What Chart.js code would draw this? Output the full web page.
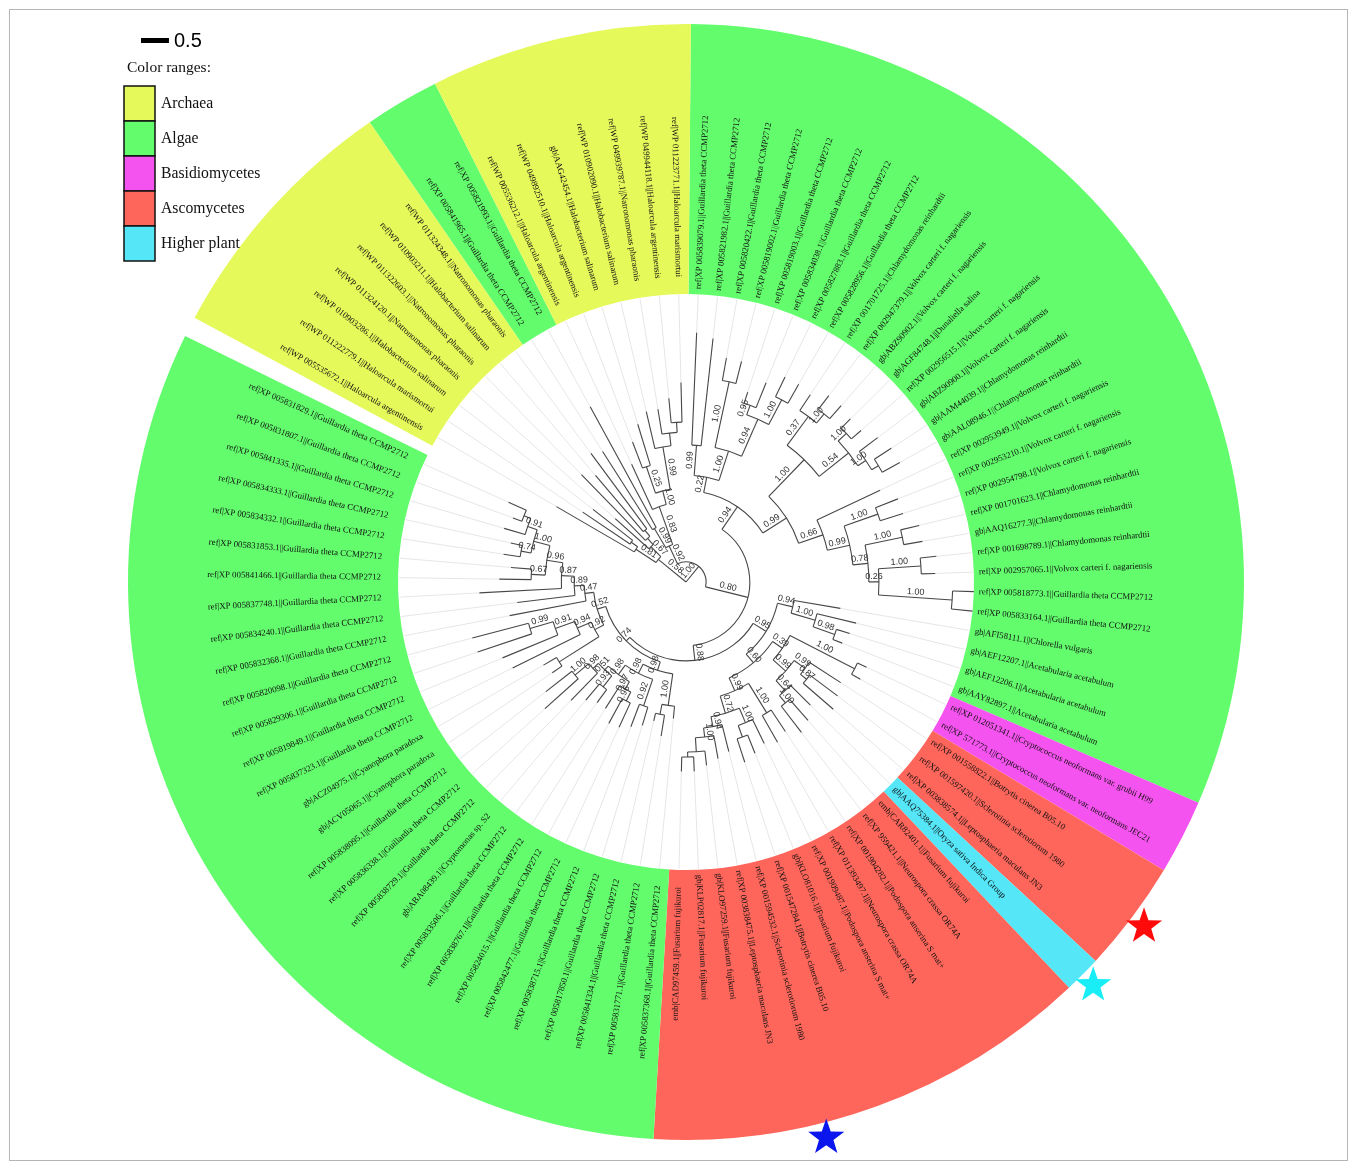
<!DOCTYPE html>
<html>
<head>
<meta charset="utf-8">
<title>Phylogenetic tree</title>
<script src="https://cdn.jsdelivr.net/npm/chart.js@4.4.1/dist/chart.umd.min.js"></script>
<style>
  html, body { margin: 0; padding: 0; background: #fff; overflow: hidden; }
  #wrap { position: relative; width: 1363px; height: 1166px; }
  #frame { position: absolute; left: 9px; top: 9px; width: 1337px; height: 1150px; border: 1px solid #b5b5b5; pointer-events: none; }
</style>
</head>
<body>
<div id="wrap"><canvas id="c"></canvas><div id="frame"></div></div>
<script>
// ---- colour ranges, clockwise from 12 o'clock (null = empty wedge) ----
const rangeGroup     = ['Algae', 'Basidiomycetes', 'Ascomycetes', 'Higher plant', 'Ascomycetes', 'Algae', null, 'Archaea', 'Algae', 'Archaea'];
const rangeLeafCount = [29, 2, 3, 1, 12, 29, 0, 7, 2, 7];
const gapSlots = 0.54;

const legendNames  = ['Archaea', 'Algae', 'Basidiomycetes', 'Ascomycetes', 'Higher plant'];
const legendColors = ['#e5f95b', '#62fc6c', '#f553ef', '#fe665b', '#55e6f8'];

// ---- leaf labels, clockwise from 12 o'clock ----
const leafNames = [
  'ref|XP 005839079.1||Guillardia theta CCMP2712',
  'ref|XP 005821982.1||Guillardia theta CCMP2712',
  'ref|XP 005820422.1||Guillardia theta CCMP2712',
  'ref|XP 005819002.1||Guillardia theta CCMP2712',
  'ref|XP 005819003.1||Guillardia theta CCMP2712',
  'ref|XP 005834038.1||Guillardia theta CCMP2712',
  'ref|XP 005827883.1||Guillardia theta CCMP2712',
  'ref|XP 005828956.1||Guillardia theta CCMP2712',
  'ref|XP 001701725.1||Chlamydomonas reinhardtii',
  'ref|XP 002947379.1||Volvox carteri f. nagariensis',
  'gb|ABZ90902.1||Volvox carteri f. nagariensis',
  'gb|AGF84748.1||Dunaliella salina',
  'ref|XP 002956515.1||Volvox carteri f. nagariensis',
  'gb|ABZ90900.1||Volvox carteri f. nagariensis',
  'gb|AAM44039.1||Chlamydomonas reinhardtii',
  'gb|AAL08946.1||Chlamydomonas reinhardtii',
  'ref|XP 002953949.1||Volvox carteri f. nagariensis',
  'ref|XP 002953210.1||Volvox carteri f. nagariensis',
  'ref|XP 002954798.1||Volvox carteri f. nagariensis',
  'ref|XP 001701623.1||Chlamydomonas reinhardtii',
  'gb|AAQ16277.3||Chlamydomonas reinhardtii',
  'ref|XP 001698789.1||Chlamydomonas reinhardtii',
  'ref|XP 002957065.1||Volvox carteri f. nagariensis',
  'ref|XP 005818773.1||Guillardia theta CCMP2712',
  'ref|XP 005833164.1||Guillardia theta CCMP2712',
  'gb|AFI58111.1||Chlorella vulgaris',
  'gb|AEF12207.1||Acetabularia acetabulum',
  'gb|AEF12206.1||Acetabularia acetabulum',
  'gb|AAY82897.1||Acetabularia acetabulum',
  'ref|XP 012051341.1||Cryptococcus neoformans var. grubii H99',
  'ref|XP 571773.1||Cryptococcus neoformans var. neoformans JEC21',
  'ref|XP 001558822.1||Botrytis cinerea B05.10',
  'ref|XP 001597420.1||Sclerotinia sclerotiorum 1980',
  'ref|XP 003838574.1||Leptosphaeria maculans JN3',
  'gb|AAQ75384.1||Oryza sativa Indica Group',
  'emb|CAR82401.1||Fusarium fujikuroi',
  'ref|XP 959421.1||Neurospora crassa OR74A',
  'ref|XP 001904282.1||Podospora anserina S mat+',
  'ref|XP 011393497.1||Neurospora crassa OR74A',
  'ref|XP 001909487.1||Podospora anserina S mat+',
  'gb|KLO81016.1||Fusarium fujikuroi',
  'ref|XP 001547284.1||Botrytis cinerea B05.10',
  'ref|XP 001594532.1||Sclerotinia sclerotiorum 1980',
  'ref|XP 003838475.1||Leptosphaeria maculans JN3',
  'gb|KLO97259.1||Fusarium fujikuroi',
  'gb|KLP02817.1||Fusarium fujikuroi',
  'emb|CAD97459.1||Fusarium fujikuroi',
  'ref|XP 005837368.1||Guillardia theta CCMP2712',
  'ref|XP 005831771.1||Guillardia theta CCMP2712',
  'ref|XP 005841334.1||Guillardia theta CCMP2712',
  'ref|XP 005817850.1||Guillardia theta CCMP2712',
  'ref|XP 005838715.1||Guillardia theta CCMP2712',
  'ref|XP 005842477.1||Guillardia theta CCMP2712',
  'ref|XP 005824015.1||Guillardia theta CCMP2712',
  'ref|XP 005838767.1||Guillardia theta CCMP2712',
  'ref|XP 005833506.1||Guillardia theta CCMP2712',
  'gb|ABA08439.1||Cryptomonas sp. S2',
  'ref|XP 005838729.1||Guillardia theta CCMP2712',
  'ref|XP 005836338.1||Guillardia theta CCMP2712',
  'ref|XP 005838095.1||Guillardia theta CCMP2712',
  'gb|ACV05065.1||Cyanophora paradoxa',
  'gb|ACZ04975.1||Cyanophora paradoxa',
  'ref|XP 005837323.1||Guillardia theta CCMP2712',
  'ref|XP 005819849.1||Guillardia theta CCMP2712',
  'ref|XP 005829306.1||Guillardia theta CCMP2712',
  'ref|XP 005820098.1||Guillardia theta CCMP2712',
  'ref|XP 005832368.1||Guillardia theta CCMP2712',
  'ref|XP 005834240.1||Guillardia theta CCMP2712',
  'ref|XP 005837748.1||Guillardia theta CCMP2712',
  'ref|XP 005841466.1||Guillardia theta CCMP2712',
  'ref|XP 005831853.1||Guillardia theta CCMP2712',
  'ref|XP 005834332.1||Guillardia theta CCMP2712',
  'ref|XP 005834333.1||Guillardia theta CCMP2712',
  'ref|XP 005841335.1||Guillardia theta CCMP2712',
  'ref|XP 005831807.1||Guillardia theta CCMP2712',
  'ref|XP 005831829.1||Guillardia theta CCMP2712',
  'ref|WP 005535672.1||Haloarcula argentinensis',
  'ref|WP 011222779.1||Haloarcula marismortui',
  'ref|WP 010903286.1||Halobacterium salinarum',
  'ref|WP 011324120.1||Natronomonas pharaonis',
  'ref|WP 011322603.1||Natronomonas pharaonis',
  'ref|WP 010903211.1||Halobacterium salinarum',
  'ref|WP 011324348.1||Natronomonas pharaonis',
  'ref|XP 005841965.1||Guillardia theta CCMP2712',
  'ref|XP 005821993.1||Guillardia theta CCMP2712',
  'ref|WP 005536212.1||Haloarcula argentinensis',
  'ref|WP 049892510.1||Haloarcula argentinensis',
  'gb|AAG42454.1||Halobacterium salinarum',
  'ref|WP 010902090.1||Halobacterium salinarum',
  'ref|WP 049939787.1||Natronomonas pharaonis',
  'ref|WP 049944118.1||Haloarcula argentinensis',
  'ref|WP 011223771.1||Haloarcula marismortui'
];

// ---- tree: leaves are numbered as in leafNames (1-based); "support:height",
//      heights are distances from the root in substitutions/site ----
const cladeArchaea = '((77:2.68,(78:2.23,79:2.11):1.21)0.81:1.07,(80:1.70,(81:2.68,(82:2.50,83:2.86):1.18):1.04)0.67:0.89)0.58:0.64';
const cladeHalo = '((84:2.77,85:3.57)0.99:1.11,(86:2.32,((87:2.68,88:2.95)0.25:2.18,(89:3.13,(90:3.13,(91:3.30,92:3.57):2.86):2.68)0.99:2.45)1.00:1.68)0.83:1.43)0.92:0.71';
const cladeTopGuillardia = '((1:4.46,2:4.38)0.99:2.45,((3:4.07,4:4.07)1.00:3.66,((5:3.57,6:3.84)0.95:3.36,(7:4.07,8:4.07)1.00:3.68)0.94:3.18)1.00:2.46)0.22:1.91';
const cladeChlorophyta = '(((9:4.02,(10:4.20,11:4.20)1.00:3.89)0.37:3.68,((12:4.14,13:4.14)1.00:3.91,(14:4.29,(15:4.38,16:4.38):4.02)1.00:3.88)0.54:3.71)1.00:3.04,(17:3.84,((18:4.07,19:4.07)1.00:3.64,((20:4.29,21:4.29)1.00:3.95,((22:4.50,23:4.46)1.00:4.21,(24:5.15,25:5.15)1.00:4.77)0.26:3.45)0.78:3.27)0.99:3.00)0.66:2.59)0.99:2.13';
const cladeFungiPlant = '((26:2.80,(27:3.13,(28:3.07,29:3.00)0.98:2.82)1.00:2.41)0.94:1.96,(((30:3.57,31:3.57)1.00:3.39,((32:3.30,(33:3.39,34:3.48)0.87:2.77)0.99:2.63,(35:3.13,(36:3.30,37:3.39)1.00:2.80)0.64:2.63)0.99:2.39)0.39:2.09,((38:3.21,39:3.30)1.00:2.75,((40:3.21,(41:3.30,42:3.39):2.95)1.00:2.73,(43:3.13,(44:3.21,(45:3.30,(46:3.39,47:3.39):3.13):3.04)1.00:2.79)0.94:2.63)0.72:2.45)0.99:2.13)0.60:1.88)0.95:1.68';
const cladeCryptophyta = '(((48:2.45,(49:2.79,50:2.55):2.41)1.00:2.23,((51:2.68,52:2.77)0.92:2.34,(((53:2.86,54:2.88)0.96:2.38,55:2.68)0.97:2.20,((56:2.68,57:2.77)0.93:2.39,(58:2.95,(59:3.39,60:3.18)1.00:2.59)0.98:2.27)0.51:2.14)0.98:2.05)0.98:1.84)0.98:1.66,(((61:2.89,62:2.95):2.68,(63:3.46,(64:3.55,(65:3.93,66:3.95)0.99:2.91)0.91:2.48)0.94:2.11)0.92:1.84,(67:3.21,(68:3.04,(69:3.70,((70:3.34,71:3.14)0.67:2.77,((72:3.30,73:3.21)0.74:3.00,(74:3.39,(75:3.30,76:3.48):3.13)0.91:3.00)1.00:2.82)0.96:2.52)0.87:2.23)0.89:2.00)0.47:1.82)0.52:1.66)0.74:1.50';
const treeNewick = '(' + cladeArchaea + ',(' + cladeHalo + ',((' + cladeTopGuillardia + ',' + cladeChlorophyta +
  ')0.94:1.63,(' + cladeFungiPlant + ',' + cladeCryptophyta + ')0.88:1.41)0.80:1.14)1.00:0.36):0;';

const starLeaves = [33, 35, 43];
const starColors = ['#ff0a0a', '#19eef6', '#0b16ee'];
const scaleBarValue = 0.5;

// ---- layout constants ----
const W = 1363, H = 1166;
const CX = 686, CY = 582, R_OUT = 558, R_IN = 288;
const TREE_SPAN = 5.15;          // tree height that reaches the inner ring
const LEAF_FONT = '8.8px "Liberation Serif"';
const SUPPORT_FONT = '9px "Liberation Sans"';
const LABEL_PAD = 5, LABEL_PAD_FLIPPED = 17;

function parseTree(src) {
  const s = src.replace(/\s+/g, '');
  let i = 0;
  function node() {
    const n = { children: [], support: '', height: 0, leaf: null };
    if (s[i] === '(') {
      i++;
      n.children.push(node());
      while (s[i] === ',') { i++; n.children.push(node()); }
      i++;
      let lab = '';
      while (i < s.length && /[0-9.]/.test(s[i])) lab += s[i++];
      n.support = lab;
    } else {
      let lab = '';
      while (i < s.length && /[0-9]/.test(s[i])) lab += s[i++];
      n.leaf = parseInt(lab, 10);
    }
    if (s[i] === ':') {
      i++;
      let d = '';
      while (i < s.length && /[0-9.]/.test(s[i])) d += s[i++];
      n.height = parseFloat(d);
    }
    return n;
  }
  return node();
}
const treeRoot = parseTree(treeNewick);

function leafAnglesFrom(chart) {
  const arcs = chart.getDatasetMeta(0).data;
  const angles = [];
  let gapEnd = null;
  rangeLeafCount.forEach((n, j) => {
    const a = arcs[j];
    if (rangeGroup[j] === null) { gapEnd = a.endAngle; return; }
    const step = (a.endAngle - a.startAngle) / n;
    for (let k = 0; k < n; k++) angles.push(a.startAngle + step * (k + 0.5));
  });
  return { angles, gapEnd };
}

function layoutTree(n, unwrapped) {
  if (n.leaf !== null) { n.angle = unwrapped[n.leaf - 1]; return; }
  n.children.forEach(c => layoutTree(c, unwrapped));
  n.a0 = n.children[0].angle;
  n.a1 = n.children[n.children.length - 1].angle;
  n.angle = (n.a0 + n.a1) / 2;
}

function drawStar(ctx, x, y, ro, ri, color) {
  ctx.beginPath();
  for (let i = 0; i < 10; i++) {
    const r = i % 2 ? ri : ro;
    const a = -Math.PI / 2 + i * Math.PI / 5;
    const px = x + r * Math.cos(a), py = y + r * Math.sin(a);
    if (i) ctx.lineTo(px, py); else ctx.moveTo(px, py);
  }
  ctx.closePath();
  ctx.fillStyle = color;
  ctx.fill();
}

const treePlugin = {
  id: 'treePlugin',
  afterDatasetsDraw(chart) {
    const ctx = chart.ctx;
    const arc0 = chart.getDatasetMeta(0).data[0];
    const cx = arc0.x, cy = arc0.y, rIn = arc0.innerRadius, rOut = arc0.outerRadius;
    const k = rIn / TREE_SPAN;
    const { angles, gapEnd } = leafAnglesFrom(chart);
    const unwrapped = angles.map(a => (a < gapEnd ? a + 2 * Math.PI : a));
    layoutTree(treeRoot, unwrapped);

    ctx.save();
    // leaf guide lines
    ctx.strokeStyle = '#e6e6e6';
    ctx.lineWidth = 1;
    const leaves = [];
    (function collect(n) { if (n.leaf !== null) leaves.push(n); else n.children.forEach(collect); })(treeRoot);
    leaves.forEach(l => {
      const r0 = l.height * k;
      ctx.beginPath();
      ctx.moveTo(cx + r0 * Math.cos(l.angle), cy + r0 * Math.sin(l.angle));
      ctx.lineTo(cx + (rIn - 1) * Math.cos(l.angle), cy + (rIn - 1) * Math.sin(l.angle));
      ctx.stroke();
    });

    // branches
    ctx.strokeStyle = '#474747';
    ctx.lineWidth = 1.1;
    const supports = [];
    (function draw(n) {
      if (!n.children.length) return;
      const r = n.height * k;
      if (r > 0) {
        ctx.beginPath();
        ctx.arc(cx, cy, r, n.a0, n.a1);
        ctx.stroke();
      }
      n.children.forEach(c => {
        const rc = c.height * k;
        ctx.beginPath();
        ctx.moveTo(cx + r * Math.cos(c.angle), cy + r * Math.sin(c.angle));
        ctx.lineTo(cx + rc * Math.cos(c.angle), cy + rc * Math.sin(c.angle));
        ctx.stroke();
        if (c.support) supports.push({ text: c.support, r: (r + rc) / 2, a: c.angle });
        draw(c);
      });
    })(treeRoot);

    // support values along the branch leading to each node
    ctx.fillStyle = '#333';
    ctx.font = SUPPORT_FONT;
    ctx.textAlign = 'center';
    ctx.textBaseline = 'bottom';
    supports.forEach(s => {
      ctx.save();
      ctx.translate(cx, cy);
      if (Math.cos(s.a) >= 0) { ctx.rotate(s.a); ctx.fillText(s.text, s.r, -1); }
      else { ctx.rotate(s.a + Math.PI); ctx.fillText(s.text, -s.r, -1); }
      ctx.restore();
    });

    // leaf labels
    ctx.fillStyle = '#111';
    ctx.font = LEAF_FONT;
    ctx.textBaseline = 'middle';
    angles.forEach((a, i) => {
      ctx.save();
      ctx.translate(cx, cy);
      if (Math.cos(a) >= 0) { ctx.rotate(a); ctx.textAlign = 'left'; ctx.fillText(leafNames[i], rIn + LABEL_PAD, 0); }
      else { ctx.rotate(a + Math.PI); ctx.textAlign = 'right'; ctx.fillText(leafNames[i], -(rIn + LABEL_PAD_FLIPPED), 0); }
      ctx.restore();
    });

    // highlighted leaves
    starLeaves.forEach((leaf, i) => {
      const a = angles[leaf - 1];
      const rs = rOut + 15;
      drawStar(ctx, cx + rs * Math.cos(a), cy + rs * Math.sin(a), 19, 7.6, starColors[i]);
    });
    ctx.restore();
  },
  afterDraw(chart) {
    const ctx = chart.ctx;
    const arc0 = chart.getDatasetMeta(0).data[0];
    const k = arc0.innerRadius / TREE_SPAN;
    ctx.save();
    // scale bar
    ctx.fillStyle = '#000';
    ctx.fillRect(141, 38, scaleBarValue * k, 5);
    ctx.font = '20px "Liberation Sans"';
    ctx.textBaseline = 'middle';
    ctx.textAlign = 'left';
    ctx.fillText(String(scaleBarValue), 174, 41);
    // colour legend
    ctx.font = '15.5px "Liberation Serif"';
    ctx.fillStyle = '#111';
    ctx.fillText('Color ranges:', 127, 68);
    const bx = 124, by = 86, bw = 31, bh = 35;
    legendNames.forEach((name, i) => {
      ctx.fillStyle = legendColors[i];
      ctx.fillRect(bx, by + i * bh, bw, bh);
      ctx.strokeStyle = '#111';
      ctx.lineWidth = 1.5;
      ctx.strokeRect(bx, by + i * bh, bw, bh);
      ctx.fillStyle = '#111';
      ctx.font = '15.7px "Liberation Serif"';
      ctx.fillText(name, 161, by + i * bh + bh / 2);
    });
    ctx.restore();
  }
};

const segValues = rangeLeafCount.map((n, j) => (rangeGroup[j] === null ? gapSlots : n));
const segColors = rangeGroup.map(g => (g === null ? 'rgba(255,255,255,0)' : legendColors[legendNames.indexOf(g)]));

new Chart(document.getElementById('c'), {
  type: 'doughnut',
  data: {
    labels: rangeGroup.map(g => g || ''),
    datasets: [{ data: segValues, backgroundColor: segColors, borderWidth: 0, hoverOffset: 0 }]
  },
  options: {
    responsive: true,
    maintainAspectRatio: false,
    devicePixelRatio: 1,
    animation: false,
    events: [],
    rotation: 0.5,
    cutout: (R_IN / R_OUT * 100) + '%',
    layout: { padding: { left: CX - R_OUT, right: W - CX - R_OUT, top: CY - R_OUT, bottom: H - CY - R_OUT } },
    plugins: { legend: { display: false }, tooltip: { enabled: false } }
  },
  plugins: [treePlugin]
});
</script>
</body>
</html>
